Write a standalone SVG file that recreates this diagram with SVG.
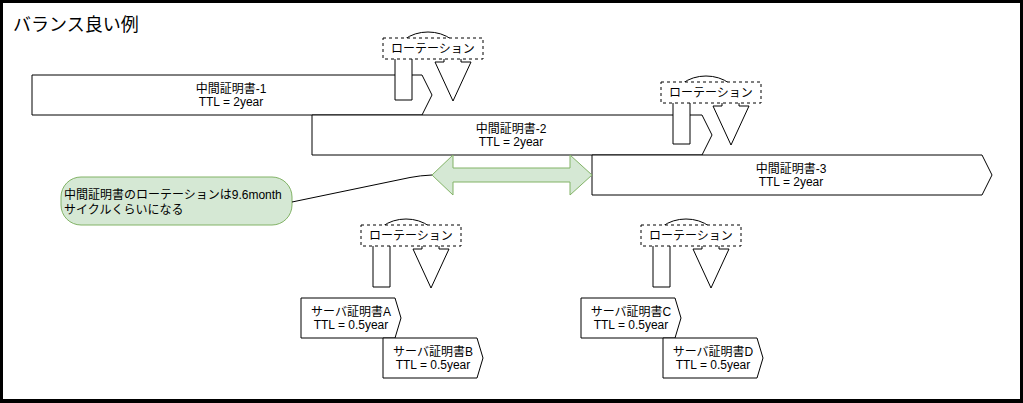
<svg xmlns="http://www.w3.org/2000/svg" width="1023" height="403" viewBox="0 0 1023 403">
<style>
text{font-family:"Liberation Sans","Noto Sans CJK JP",sans-serif;font-size:12px;fill:#000}
.t{text-anchor:middle}
.shape{fill:#fff;stroke:#000;stroke-width:1}
.dash{fill:#fff;stroke:#000;stroke-width:1;stroke-dasharray:3 3}
.green{fill:#d5e8d4;stroke:#82b366;stroke-width:1}
.title{font-size:18px}
</style>
<rect x="0" y="0" width="1023" height="403" fill="#000"/>
<rect x="3" y="3" width="1017" height="396" fill="#fff"/>
<text class="title" x="13" y="30.5">バランス良い例</text>

<g id="cert1">
<polygon class="shape" points="32,75 422,75 432,95 422,115 32,115"/>
<text class="t" x="231" y="93">中間証明書-1</text>
<text class="t" x="231" y="105.5">TTL = 2year</text>
</g>
<g id="cert2">
<polygon class="shape" points="312,115 702,115 712,135 702,155 312,155"/>
<text class="t" x="511" y="133">中間証明書-2</text>
<text class="t" x="511" y="145.5">TTL = 2year</text>
</g>
<g id="cert3">
<polygon class="shape" points="592,155 982,155 992,175 982,195 592,195"/>
<text class="t" x="791" y="173">中間証明書-3</text>
<text class="t" x="791" y="185.5">TTL = 2year</text>
</g>

<g id="serverA">
<polygon class="shape" points="301,298 395,298 401,318 395,338 301,338"/>
<text class="t" x="351" y="316">サーバ証明書A</text>
<text class="t" x="351" y="328.5">TTL = 0.5year</text>
</g>
<g id="serverB">
<polygon class="shape" points="383,338 477,338 483,358 477,378 383,378"/>
<text class="t" x="433" y="356">サーバ証明書B</text>
<text class="t" x="433" y="368.5">TTL = 0.5year</text>
</g>
<g id="serverC">
<polygon class="shape" points="581,298 675,298 681,318 675,338 581,338"/>
<text class="t" x="631" y="316">サーバ証明書C</text>
<text class="t" x="631" y="328.5">TTL = 0.5year</text>
</g>
<g id="serverD">
<polygon class="shape" points="663,338 757,338 763,358 757,378 663,378"/>
<text class="t" x="713" y="356">サーバ証明書D</text>
<text class="t" x="713" y="368.5">TTL = 0.5year</text>
</g>

<g id="rotation1">
<path class="shape" d="M395,100 L395,57 A33,25 0 0 1 461,57 L461,62 L471,62 L453,101 L435,62 L444,62 L444,57 A16,8 0 0 0 412,57 L412,100 Z"/>
<rect class="dash" x="383" y="38" width="100" height="21"/>
<text class="t" x="433" y="53">ローテーション</text>
</g>
<g id="rotation2" transform="translate(278,44)">
<path class="shape" d="M395,100 L395,57 A33,25 0 0 1 461,57 L461,62 L471,62 L453,101 L435,62 L444,62 L444,57 A16,8 0 0 0 412,57 L412,100 Z"/>
<rect class="dash" x="383" y="38" width="100" height="21"/>
<text class="t" x="433" y="53">ローテーション</text>
</g>
<g id="rotation3" transform="translate(-22,187)">
<path class="shape" d="M395,100 L395,57 A33,25 0 0 1 461,57 L461,62 L471,62 L453,101 L435,62 L444,62 L444,57 A16,8 0 0 0 412,57 L412,100 Z"/>
<rect class="dash" x="383" y="38" width="100" height="21"/>
<text class="t" x="433" y="53">ローテーション</text>
</g>
<g id="rotation4" transform="translate(258,187)">
<path class="shape" d="M395,100 L395,57 A33,25 0 0 1 461,57 L461,62 L471,62 L453,101 L435,62 L444,62 L444,57 A16,8 0 0 0 412,57 L412,100 Z"/>
<rect class="dash" x="383" y="38" width="100" height="21"/>
<text class="t" x="433" y="53">ローテーション</text>
</g>

<g id="period">
<polygon class="green" points="432,175 453,155 453,168 570,168 570,155 592,175 570,195 570,182 453,182 453,195"/>
</g>

<g id="note">
<rect class="green" x="61" y="177" width="231" height="48" rx="20" ry="20"/>
<text x="64" y="199">中間証明書のローテーションは9.6month</text>
<text x="64" y="214">サイクルくらいになる</text>
</g>

<g id="connectors">
<path d="M292,202 L410,177.5 Q420,175.5 432,175" fill="none" stroke="#000" stroke-width="1"/>
</g>
</svg>
